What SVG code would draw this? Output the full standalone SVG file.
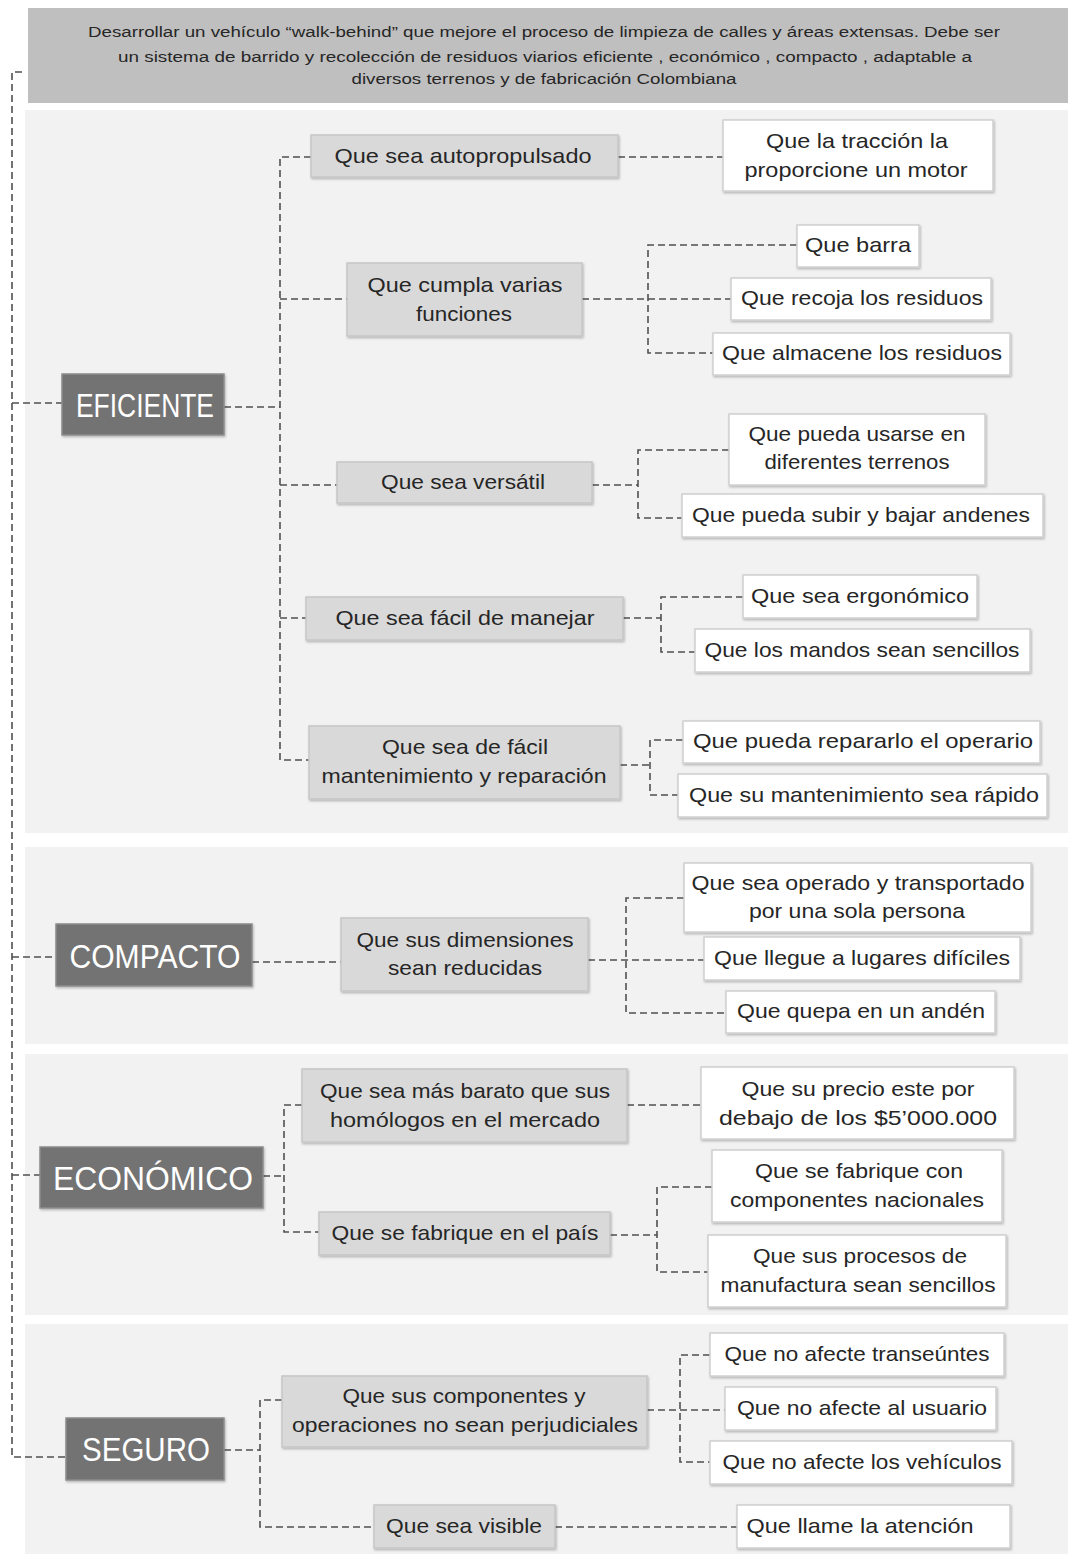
<svg xmlns="http://www.w3.org/2000/svg" width="1071" height="1554" viewBox="0 0 1071 1554">
<defs>
<filter id="sh" x="-5%" y="-5%" width="115%" height="130%">
<feDropShadow dx="1" dy="1.5" stdDeviation="1" flood-color="#000" flood-opacity="0.25"/>
</filter>
<style>
.sec{fill:#f2f2f2}
.hdr{fill:#bfbfbf}
.cat{fill:#737373;stroke:#8c8c8c;stroke-width:1.5;filter:url(#sh)}
.mid{fill:#d9d9d9;stroke:#c6c6c6;stroke-width:1.5;filter:url(#sh)}
.leaf{fill:#ffffff;stroke:#cfcfcf;stroke-width:1.5;filter:url(#sh)}
text{font-family:"Liberation Sans","DejaVu Sans",sans-serif;fill:#262626;text-anchor:middle}
.t{font-size:21px}
.c{font-size:34px;fill:#ffffff}
.h{font-size:14px}
.con path{fill:none;stroke:#505050;stroke-width:1.6;stroke-dasharray:7 4}
</style>
</defs>
<rect width="1071" height="1554" fill="#ffffff"/>
<g id="sections">
<rect class="sec" x="25" y="110" width="1043" height="723"/>
<rect class="sec" x="25" y="847" width="1043" height="197"/>
<rect class="sec" x="25" y="1054" width="1043" height="261"/>
<rect class="sec" x="25" y="1324" width="1043" height="230"/>
</g>
<g class="con" id="connectors">
<path d="M22 72 H12 V1457 H66"/>
<path d="M12 403 H62"/>
<path d="M12 957 H56"/>
<path d="M12 1175 H40"/>
<path d="M224 407 H280"/>
<path d="M311 157 H280 V760 H309"/>
<path d="M280 299 H347"/>
<path d="M280 485 H337"/>
<path d="M280 618 H306"/>
<path d="M618 157 H723"/>
<path d="M582 299 H731"/>
<path d="M797 245 H648 V353 H713"/>
<path d="M592 485 H638"/>
<path d="M729 450 H638 V518 H682"/>
<path d="M623 618 H661"/>
<path d="M743 597 H661 V652 H695"/>
<path d="M620 765 H650"/>
<path d="M683 740 H650 V795 H678"/>
<path d="M252 962 H341"/>
<path d="M588 960 H704"/>
<path d="M684 898 H626 V1013 H726"/>
<path d="M263 1176 H284"/>
<path d="M302 1105 H284 V1232 H319"/>
<path d="M627 1105 H701"/>
<path d="M610 1235 H657"/>
<path d="M712 1187 H657 V1272 H708"/>
<path d="M224 1450 H260"/>
<path d="M282 1400 H260 V1527 H374"/>
<path d="M647 1410 H725"/>
<path d="M710 1355 H680 V1462 H710"/>
<path d="M555 1527 H737"/>
</g>
<g id="header">
<rect class="hdr" x="28" y="8" width="1040" height="95"/>
<text class="h" x="544" y="37" textLength="912" lengthAdjust="spacingAndGlyphs">Desarrollar un vehículo “walk-behind”  que mejore el proceso de limpieza de calles y áreas extensas. Debe ser</text>
<text class="h" x="545" y="62" textLength="854" lengthAdjust="spacingAndGlyphs">un sistema de barrido  y recolección de residuos viarios  eficiente , económico , compacto , adaptable a</text>
<text class="h" x="544" y="84" textLength="385" lengthAdjust="spacingAndGlyphs">diversos terrenos y de fabricación Colombiana</text>
</g>
<g id="eficiente">
<rect class="cat" x="62" y="374" width="162" height="61"/>
<text class="c" x="145" y="417" textLength="138" lengthAdjust="spacingAndGlyphs">EFICIENTE</text>
</g>
<g id="autopropulsado">
<rect class="mid" x="311" y="135" width="307" height="42"/>
<text class="t" x="463" y="163" textLength="257" lengthAdjust="spacingAndGlyphs">Que sea autopropulsado</text>
</g>
<g id="traccion">
<rect class="leaf" x="723" y="120" width="270" height="71"/>
<text class="t" x="857" y="148" textLength="182" lengthAdjust="spacingAndGlyphs">Que la tracción la</text>
<text class="t" x="856" y="177" textLength="223" lengthAdjust="spacingAndGlyphs">proporcione un motor</text>
</g>
<g id="funciones">
<rect class="mid" x="347" y="263" width="235" height="73"/>
<text class="t" x="465" y="292" textLength="195" lengthAdjust="spacingAndGlyphs">Que cumpla varias</text>
<text class="t" x="464" y="321" textLength="96" lengthAdjust="spacingAndGlyphs">funciones</text>
</g>
<g id="barra">
<rect class="leaf" x="797" y="225" width="122" height="42"/>
<text class="t" x="858" y="252" textLength="106" lengthAdjust="spacingAndGlyphs">Que barra</text>
</g>
<g id="recoja">
<rect class="leaf" x="731" y="278" width="260" height="42"/>
<text class="t" x="862" y="305" textLength="242" lengthAdjust="spacingAndGlyphs">Que recoja los residuos</text>
</g>
<g id="almacene">
<rect class="leaf" x="713" y="333" width="297" height="42"/>
<text class="t" x="862" y="360" textLength="280" lengthAdjust="spacingAndGlyphs">Que almacene los residuos</text>
</g>
<g id="versatil">
<rect class="mid" x="337" y="462" width="255" height="41"/>
<text class="t" x="463" y="489" textLength="164" lengthAdjust="spacingAndGlyphs">Que sea versátil</text>
</g>
<g id="terrenos">
<rect class="leaf" x="729" y="414" width="256" height="71"/>
<text class="t" x="857" y="441" textLength="217" lengthAdjust="spacingAndGlyphs">Que pueda usarse en</text>
<text class="t" x="857" y="469" textLength="185" lengthAdjust="spacingAndGlyphs">diferentes terrenos</text>
</g>
<g id="andenes">
<rect class="leaf" x="682" y="494" width="361" height="43"/>
<text class="t" x="861" y="522" textLength="338" lengthAdjust="spacingAndGlyphs">Que pueda subir y bajar andenes</text>
</g>
<g id="manejar">
<rect class="mid" x="306" y="597" width="317" height="43"/>
<text class="t" x="465" y="625" textLength="259" lengthAdjust="spacingAndGlyphs">Que sea fácil de manejar</text>
</g>
<g id="ergonomico">
<rect class="leaf" x="743" y="575" width="234" height="43"/>
<text class="t" x="860" y="603" textLength="218" lengthAdjust="spacingAndGlyphs">Que sea ergonómico</text>
</g>
<g id="mandos">
<rect class="leaf" x="695" y="629" width="335" height="43"/>
<text class="t" x="862" y="657" textLength="315" lengthAdjust="spacingAndGlyphs">Que los mandos sean sencillos</text>
</g>
<g id="mantenimiento">
<rect class="mid" x="309" y="726" width="311" height="73"/>
<text class="t" x="465" y="754" textLength="166" lengthAdjust="spacingAndGlyphs">Que sea de fácil</text>
<text class="t" x="464" y="783" textLength="285" lengthAdjust="spacingAndGlyphs">mantenimiento y reparación</text>
</g>
<g id="operario">
<rect class="leaf" x="683" y="721" width="357" height="42"/>
<text class="t" x="863" y="748" textLength="340" lengthAdjust="spacingAndGlyphs">Que pueda repararlo el operario</text>
</g>
<g id="rapido">
<rect class="leaf" x="678" y="774" width="369" height="43"/>
<text class="t" x="864" y="802" textLength="350" lengthAdjust="spacingAndGlyphs">Que su mantenimiento sea rápido</text>
</g>
<g id="compacto">
<rect class="cat" x="56" y="924" width="196" height="62"/>
<text class="c" x="155" y="968" textLength="171" lengthAdjust="spacingAndGlyphs">COMPACTO</text>
</g>
<g id="dimensiones">
<rect class="mid" x="341" y="918" width="247" height="73"/>
<text class="t" x="465" y="947" textLength="217" lengthAdjust="spacingAndGlyphs">Que sus dimensiones</text>
<text class="t" x="465" y="975" textLength="154" lengthAdjust="spacingAndGlyphs">sean reducidas</text>
</g>
<g id="persona">
<rect class="leaf" x="684" y="863" width="347" height="69"/>
<text class="t" x="858" y="890" textLength="333" lengthAdjust="spacingAndGlyphs">Que sea operado y transportado</text>
<text class="t" x="857" y="918" textLength="216" lengthAdjust="spacingAndGlyphs">por una sola persona</text>
</g>
<g id="dificiles">
<rect class="leaf" x="704" y="937" width="316" height="43"/>
<text class="t" x="862" y="965" textLength="296" lengthAdjust="spacingAndGlyphs">Que llegue a lugares difíciles</text>
</g>
<g id="anden">
<rect class="leaf" x="726" y="991" width="269" height="42"/>
<text class="t" x="861" y="1018" textLength="248" lengthAdjust="spacingAndGlyphs">Que quepa en un andén</text>
</g>
<g id="economico">
<rect class="cat" x="40" y="1147" width="223" height="61"/>
<text class="c" x="153" y="1190" textLength="200" lengthAdjust="spacingAndGlyphs">ECONÓMICO</text>
</g>
<g id="barato">
<rect class="mid" x="302" y="1069" width="325" height="73"/>
<text class="t" x="465" y="1098" textLength="290" lengthAdjust="spacingAndGlyphs">Que sea más barato que sus</text>
<text class="t" x="465" y="1127" textLength="270" lengthAdjust="spacingAndGlyphs">homólogos en el mercado</text>
</g>
<g id="precio">
<rect class="leaf" x="701" y="1067" width="313" height="72"/>
<text class="t" x="858" y="1096" textLength="233" lengthAdjust="spacingAndGlyphs">Que su precio este por</text>
<text class="t" x="858" y="1125" textLength="278" lengthAdjust="spacingAndGlyphs">debajo de los  $5’000.000</text>
</g>
<g id="pais">
<rect class="mid" x="319" y="1212" width="291" height="43"/>
<text class="t" x="465" y="1240" textLength="267" lengthAdjust="spacingAndGlyphs">Que se fabrique en el país</text>
</g>
<g id="nacionales">
<rect class="leaf" x="712" y="1150" width="290" height="72"/>
<text class="t" x="859" y="1178" textLength="208" lengthAdjust="spacingAndGlyphs">Que se fabrique con</text>
<text class="t" x="857" y="1207" textLength="254" lengthAdjust="spacingAndGlyphs">componentes nacionales</text>
</g>
<g id="procesos">
<rect class="leaf" x="708" y="1235" width="298" height="72"/>
<text class="t" x="860" y="1263" textLength="214" lengthAdjust="spacingAndGlyphs">Que sus procesos de</text>
<text class="t" x="858" y="1292" textLength="275" lengthAdjust="spacingAndGlyphs">manufactura sean sencillos</text>
</g>
<g id="seguro">
<rect class="cat" x="66" y="1418" width="158" height="62"/>
<text class="c" x="146" y="1461" textLength="128" lengthAdjust="spacingAndGlyphs">SEGURO</text>
</g>
<g id="perjudiciales">
<rect class="mid" x="282" y="1376" width="365" height="71"/>
<text class="t" x="464" y="1403" textLength="243" lengthAdjust="spacingAndGlyphs">Que sus componentes y</text>
<text class="t" x="465" y="1432" textLength="346" lengthAdjust="spacingAndGlyphs">operaciones no sean perjudiciales</text>
</g>
<g id="transeuntes">
<rect class="leaf" x="710" y="1333" width="294" height="43"/>
<text class="t" x="857" y="1361" textLength="265" lengthAdjust="spacingAndGlyphs">Que no afecte transeúntes</text>
</g>
<g id="usuario">
<rect class="leaf" x="725" y="1387" width="271" height="43"/>
<text class="t" x="862" y="1415" textLength="250" lengthAdjust="spacingAndGlyphs">Que no afecte al usuario</text>
</g>
<g id="vehiculos">
<rect class="leaf" x="710" y="1441" width="302" height="43"/>
<text class="t" x="862" y="1469" textLength="279" lengthAdjust="spacingAndGlyphs">Que no afecte los vehículos</text>
</g>
<g id="visible">
<rect class="mid" x="374" y="1505" width="181" height="43"/>
<text class="t" x="464" y="1533" textLength="156" lengthAdjust="spacingAndGlyphs">Que sea visible</text>
</g>
<g id="atencion">
<rect class="leaf" x="737" y="1505" width="273" height="43"/>
<text class="t" x="860" y="1533" textLength="227" lengthAdjust="spacingAndGlyphs">Que llame la atención</text>
</g>
</svg>
